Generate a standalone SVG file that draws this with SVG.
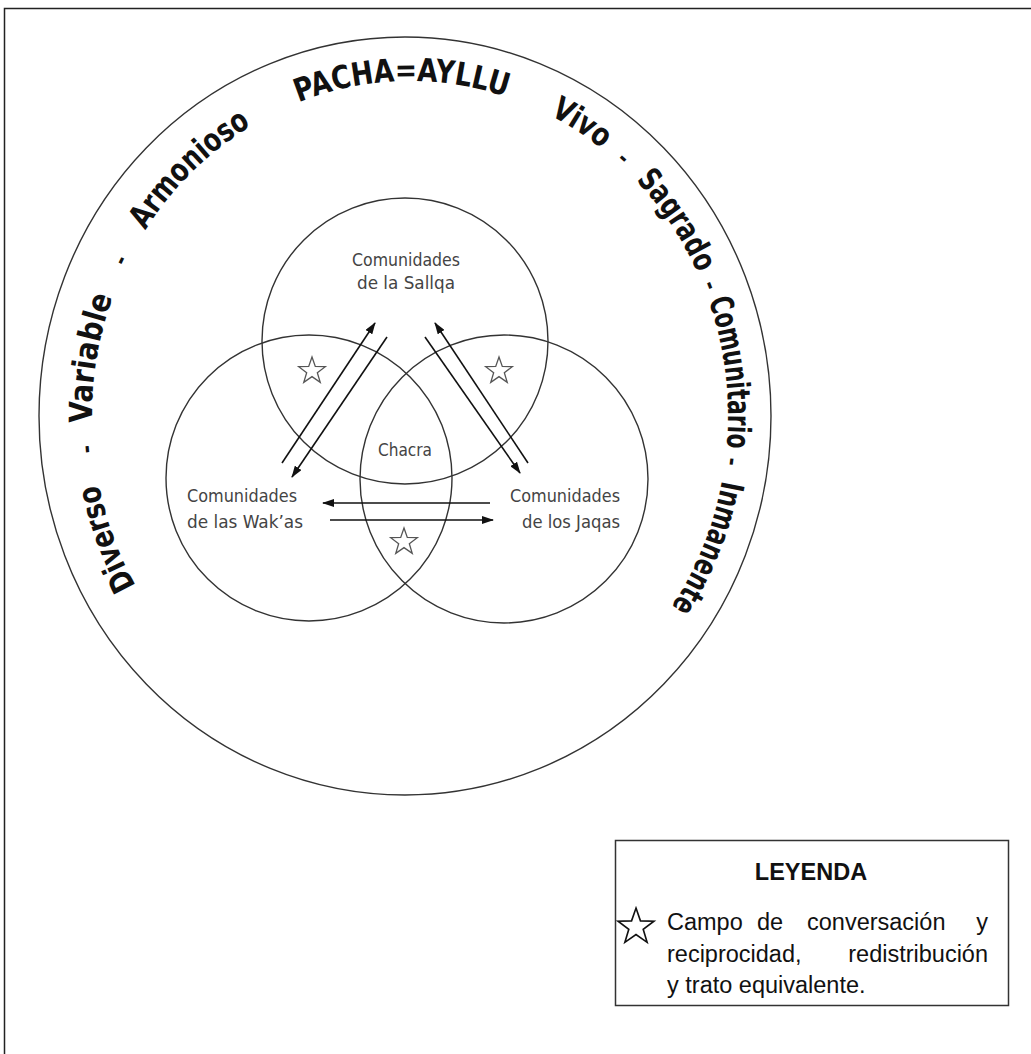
<svg xmlns="http://www.w3.org/2000/svg" xmlns:xlink="http://www.w3.org/1999/xlink" width="1031" height="1054" viewBox="0 0 1031 1054">
<style>
.line{fill:none;stroke:#333;stroke-width:1.4}
.outer{font-family:'DejaVu Sans Condensed','DejaVu Sans',sans-serif;font-stretch:condensed;font-weight:bold;font-size:32px;fill:#111}
.sep{font-family:'DejaVu Sans Condensed','DejaVu Sans',sans-serif;font-weight:bold;font-size:22px;fill:#111}
.inner{font-family:'DejaVu Sans Condensed','DejaVu Sans',sans-serif;font-stretch:condensed;font-size:18.5px;fill:#444}
.star{fill:none;stroke:#555;stroke-width:1.3}
.arrow{stroke:#111;stroke-width:1.6;fill:none;marker-end:url(#head)}
.leg{font-family:'Liberation Sans',Arial,sans-serif;font-size:23.5px;fill:#111}
</style>
<defs>
<marker id="head" viewBox="0 0 12 8" refX="11" refY="4" markerWidth="12" markerHeight="8" markerUnits="userSpaceOnUse" orient="auto">
<path d="M0,0 L12,4 L0,8 Z" fill="#111"/>
</marker>
<path id="starShape" d="M0,-14 L3.29,-4.53 L13.31,-4.33 L5.33,1.73 L8.23,11.33 L0,5.6 L-8.23,11.33 L-5.33,1.73 L-13.31,-4.33 L-3.29,-4.53 Z"/>
<path id="ring" d="M410,751 A318,335 0 1,1 410,81 A318,335 0 1,1 410,751"/>
</defs>
<rect width="1031" height="1054" fill="#fff"/>
<path d="M4.5,1054 V8.5 H1031" fill="none" stroke="#222" stroke-width="1.5"/>

<g id="pacha">
<ellipse cx="405" cy="416" rx="366" ry="379" class="line"/>
<text class="outer"><textPath href="#ring" xlink:href="#ring" startOffset="19%" text-anchor="middle" textLength="108" lengthAdjust="spacingAndGlyphs">Diverso</textPath></text>
<text class="sep"><textPath href="#ring" xlink:href="#ring" startOffset="23.4%" text-anchor="middle">-</textPath></text>
<text class="outer"><textPath href="#ring" xlink:href="#ring" startOffset="27.8%" text-anchor="middle" textLength="128" lengthAdjust="spacingAndGlyphs">Variable</textPath></text>
<text class="sep"><textPath href="#ring" xlink:href="#ring" startOffset="32.7%" text-anchor="middle">-</textPath></text>
<text class="outer"><textPath href="#ring" xlink:href="#ring" startOffset="38.2%" text-anchor="middle" textLength="150" lengthAdjust="spacingAndGlyphs">Armonioso</textPath></text>
<text class="outer"><textPath href="#ring" xlink:href="#ring" startOffset="49.6%" text-anchor="middle" textLength="212" lengthAdjust="spacingAndGlyphs">PACHA=AYLLU</textPath></text>
<text class="outer"><textPath href="#ring" xlink:href="#ring" startOffset="58.6%" text-anchor="middle" textLength="62" lengthAdjust="spacingAndGlyphs">Vivo</textPath></text>
<text class="sep"><textPath href="#ring" xlink:href="#ring" startOffset="61.2%" text-anchor="middle">-</textPath></text>
<text class="outer"><textPath href="#ring" xlink:href="#ring" startOffset="65.1%" text-anchor="middle" textLength="112" lengthAdjust="spacingAndGlyphs">Sagrado</textPath></text>
<text class="sep"><textPath href="#ring" xlink:href="#ring" startOffset="68.6%" text-anchor="middle">-</textPath></text>
<text class="outer"><textPath href="#ring" xlink:href="#ring" startOffset="72.9%" text-anchor="middle" textLength="150" lengthAdjust="spacingAndGlyphs">Comunitario</textPath></text>
<text class="sep"><textPath href="#ring" xlink:href="#ring" startOffset="77.2%" text-anchor="middle">-</textPath></text>
<text class="outer"><textPath href="#ring" xlink:href="#ring" startOffset="81.5%" text-anchor="middle" textLength="137" lengthAdjust="spacingAndGlyphs">Inmanente</textPath></text>
</g>

<g id="sallqa">
<circle cx="405" cy="341" r="143" class="line"/>
<text class="inner" x="406" y="266" text-anchor="middle" textLength="108" lengthAdjust="spacingAndGlyphs">Comunidades</text>
<text class="inner" x="406" y="289" text-anchor="middle" textLength="98" lengthAdjust="spacingAndGlyphs">de la Sallqa</text>
</g>

<g id="wakas">
<circle cx="309" cy="478" r="143" class="line"/>
<text class="inner" x="187" y="502" textLength="110" lengthAdjust="spacingAndGlyphs">Comunidades</text>
<text class="inner" x="187" y="528" textLength="116" lengthAdjust="spacingAndGlyphs">de las Wak’as</text>
</g>

<g id="jaqas">
<circle cx="504" cy="479" r="144" class="line"/>
<text class="inner" x="620" y="502" text-anchor="end" textLength="110" lengthAdjust="spacingAndGlyphs">Comunidades</text>
<text class="inner" x="620" y="528" text-anchor="end" textLength="98" lengthAdjust="spacingAndGlyphs">de los Jaqas</text>
</g>

<g id="chacra">
<text class="inner" x="405" y="456" text-anchor="middle" textLength="54" lengthAdjust="spacingAndGlyphs">Chacra</text>
</g>

<g id="stars">
<use href="#starShape" xlink:href="#starShape" class="star" transform="translate(312,371)"/>
<use href="#starShape" xlink:href="#starShape" class="star" transform="translate(499,371)"/>
<use href="#starShape" xlink:href="#starShape" class="star" transform="translate(404,542)"/>
</g>

<g id="connectors">
<line class="arrow" x1="282" y1="463" x2="375" y2="323"/>
<line class="arrow" x1="387" y1="337" x2="292" y2="477"/>
<line class="arrow" x1="528" y1="463" x2="435" y2="323"/>
<line class="arrow" x1="425" y1="337" x2="520" y2="473"/>
<line class="arrow" x1="490" y1="503" x2="323" y2="503"/>
<line class="arrow" x1="330" y1="520" x2="493" y2="520"/>
</g>

<g id="legend">
<rect x="615.5" y="840.5" width="393" height="165" fill="#fff" stroke="#333" stroke-width="1.5"/>
<text class="leg" x="811" y="880" text-anchor="middle" font-weight="bold" font-size="24">LEYENDA</text>
<use href="#starShape" xlink:href="#starShape" fill="none" stroke="#111" stroke-width="1.2" transform="translate(636,927) scale(1.35)"/>
<text class="leg" y="930"><tspan x="667">Campo</tspan><tspan x="757">de</tspan><tspan x="807">conversación</tspan><tspan x="988" text-anchor="end">y</tspan></text>
<text class="leg" y="962"><tspan x="667">reciprocidad,</tspan><tspan x="988" text-anchor="end">redistribución</tspan></text>
<text class="leg" x="667" y="993">y trato equivalente.</text>
</g>
</svg>
